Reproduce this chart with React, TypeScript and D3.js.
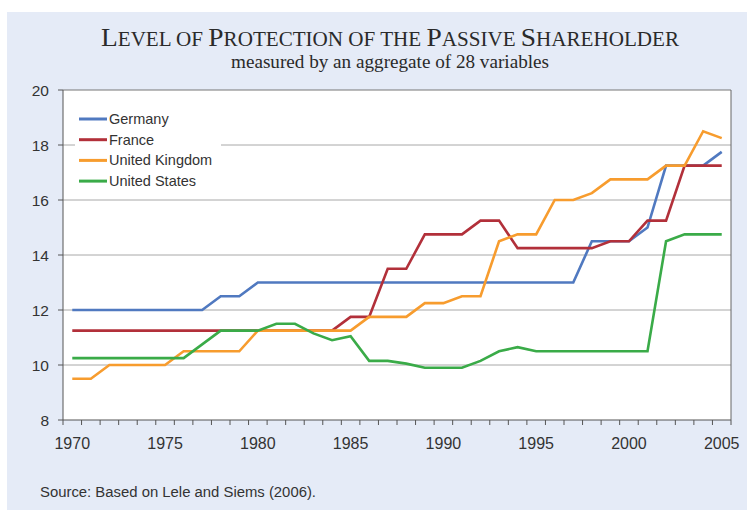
import React from 'react';
import * as d3 from 'd3';

const years = d3.range(1970, 2006);

const germany = [
  12, 12, 12, 12, 12, 12, 12, 12, 12.5, 12.5,
  13, 13, 13, 13, 13, 13, 13, 13, 13, 13,
  13, 13, 13, 13, 13, 13, 13, 13, 14.5, 14.5,
  14.5, 15, 17.25, 17.25, 17.25, 17.75,
];
const france = [
  11.25, 11.25, 11.25, 11.25, 11.25, 11.25, 11.25, 11.25, 11.25, 11.25,
  11.25, 11.25, 11.25, 11.25, 11.25, 11.75, 11.75, 13.5, 13.5, 14.75,
  14.75, 14.75, 15.25, 15.25, 14.25, 14.25, 14.25, 14.25, 14.25, 14.5,
  14.5, 15.25, 15.25, 17.25, 17.25, 17.25,
];
const unitedKingdom = [
  9.5, 9.5, 10, 10, 10, 10, 10.5, 10.5, 10.5, 10.5,
  11.25, 11.25, 11.25, 11.25, 11.25, 11.25, 11.75, 11.75, 11.75, 12.25,
  12.25, 12.5, 12.5, 14.5, 14.75, 14.75, 16, 16, 16.25, 16.75,
  16.75, 16.75, 17.25, 17.25, 18.5, 18.25,
];
const unitedStates = [
  10.25, 10.25, 10.25, 10.25, 10.25, 10.25, 10.25, 10.75, 11.25, 11.25,
  11.25, 11.5, 11.5, 11.15, 10.9, 11.05, 10.15, 10.15, 10.05, 9.9,
  9.9, 9.9, 10.15, 10.5, 10.65, 10.5, 10.5, 10.5, 10.5, 10.5,
  10.5, 10.5, 14.5, 14.75, 14.75, 14.75,
];

const series = [
  { name: 'Germany', color: '#5079c0', values: germany },
  { name: 'France', color: '#b2303a', values: france },
  { name: 'United Kingdom', color: '#f79c2e', values: unitedKingdom },
  { name: 'United States', color: '#3aab48', values: unitedStates },
];

const yTicks = [8, 10, 12, 14, 16, 18, 20];
const xLabels = [1970, 1975, 1980, 1985, 1990, 1995, 2000, 2005];

const W = 747;
const H = 510;
const plot = { left: 63, right: 731, top: 90, bottom: 420 };

export default function App() {
  const x = d3.scaleBand<number>().domain(years).range([plot.left, plot.right]);
  const cx = (yr: number) => (x(yr) ?? 0) + x.bandwidth() / 2;
  const y = d3.scaleLinear().domain([8, 20]).range([plot.bottom, plot.top]);

  const line = d3
    .line<number>()
    .x((_, i) => cx(years[i]))
    .y((v) => y(v));

  const sans = 'Arial, "Liberation Sans", sans-serif';
  const serif = '"Times New Roman", "Liberation Serif", serif';
  const tickEdges = d3.range(years.length + 1).map((i) => plot.left + i * x.step());

  return (
    <svg
      width={W}
      height={H}
      style={{ position: 'absolute', left: 0, top: 0, display: 'block' }}
    >
      <rect x={0} y={0} width={W} height={H} fill="#ffffff" />
      <rect x={7} y={12} width={W - 7} height={H - 12} fill="#e5ebf7" />

      <text
        x={101}
        y={46}
        fontFamily={serif}
        fill="#2a2a2a"
        fontSize={20}
        textLength={578}
        lengthAdjust="spacingAndGlyphs"
      >
        <tspan fontSize={26}>L</tspan>EVEL OF <tspan fontSize={26}>P</tspan>ROTECTION OF THE{' '}
        <tspan fontSize={26}>P</tspan>ASSIVE <tspan fontSize={26}>S</tspan>HAREHOLDER
      </text>
      <text
        x={231}
        y={68}
        fontFamily={serif}
        fill="#2a2a2a"
        fontSize={18}
        textLength={318}
        lengthAdjust="spacingAndGlyphs"
      >
        measured by an aggregate of 28 variables
      </text>

      <rect
        x={plot.left}
        y={plot.top}
        width={plot.right - plot.left}
        height={plot.bottom - plot.top}
        fill="#ffffff"
      />

      {yTicks.slice(1, -1).map((t) => (
        <line
          key={'g' + t}
          x1={plot.left}
          x2={plot.right}
          y1={y(t)}
          y2={y(t)}
          stroke="#a8a8a8"
          strokeWidth={1}
        />
      ))}

      {/* legend box */}
      <rect x={75} y={106} width={146} height={86} fill="#ffffff" />
      {series.map((s, i) => (
        <g key={s.name} transform={`translate(79,${119 + i * 20.7})`}>
          <line x1={0} x2={28} y1={0} y2={0} stroke={s.color} strokeWidth={3} />
          <text x={30} y={5} fontFamily={sans} fontSize={14.5} fill="#333">
            {s.name}
          </text>
        </g>
      ))}

      {series.map((s) => (
        <path
          key={'l' + s.name}
          d={line(s.values) ?? ''}
          fill="none"
          stroke={s.color}
          strokeWidth={2.6}
          strokeLinejoin="miter"
        />
      ))}

      {/* frame */}
      <line x1={plot.left} x2={plot.right} y1={plot.top} y2={plot.top} stroke="#777" />
      <line x1={plot.right} x2={plot.right} y1={plot.top} y2={plot.bottom} stroke="#666" />
      <line x1={plot.left} x2={plot.left} y1={plot.top} y2={plot.bottom} stroke="#555" />
      <line x1={plot.left} x2={plot.right} y1={plot.bottom} y2={plot.bottom} stroke="#555" />

      {yTicks.map((t) => (
        <g key={'y' + t}>
          <line x1={plot.left - 5} x2={plot.left} y1={y(t)} y2={y(t)} stroke="#555" />
          <text
            x={49}
            y={y(t) + 5.5}
            textAnchor="end"
            fontFamily={sans}
            fontSize={15.5}
            fill="#333"
          >
            {t}
          </text>
        </g>
      ))}

      {tickEdges.map((tx, i) => (
        <line key={'xt' + i} x1={tx} x2={tx} y1={plot.bottom} y2={plot.bottom + 5} stroke="#555" />
      ))}
      {xLabels.map((yr) => (
        <text
          key={'xl' + yr}
          x={cx(yr)}
          y={449}
          textAnchor="middle"
          fontFamily={sans}
          fontSize={16}
          fill="#333"
        >
          {yr}
        </text>
      ))}

      <text
        x={40}
        y={497}
        fontFamily={sans}
        fontSize={14}
        fill="#333"
        textLength={276}
        lengthAdjust="spacingAndGlyphs"
      >
        Source: Based on Lele and Siems (2006).
      </text>
    </svg>
  );
}
